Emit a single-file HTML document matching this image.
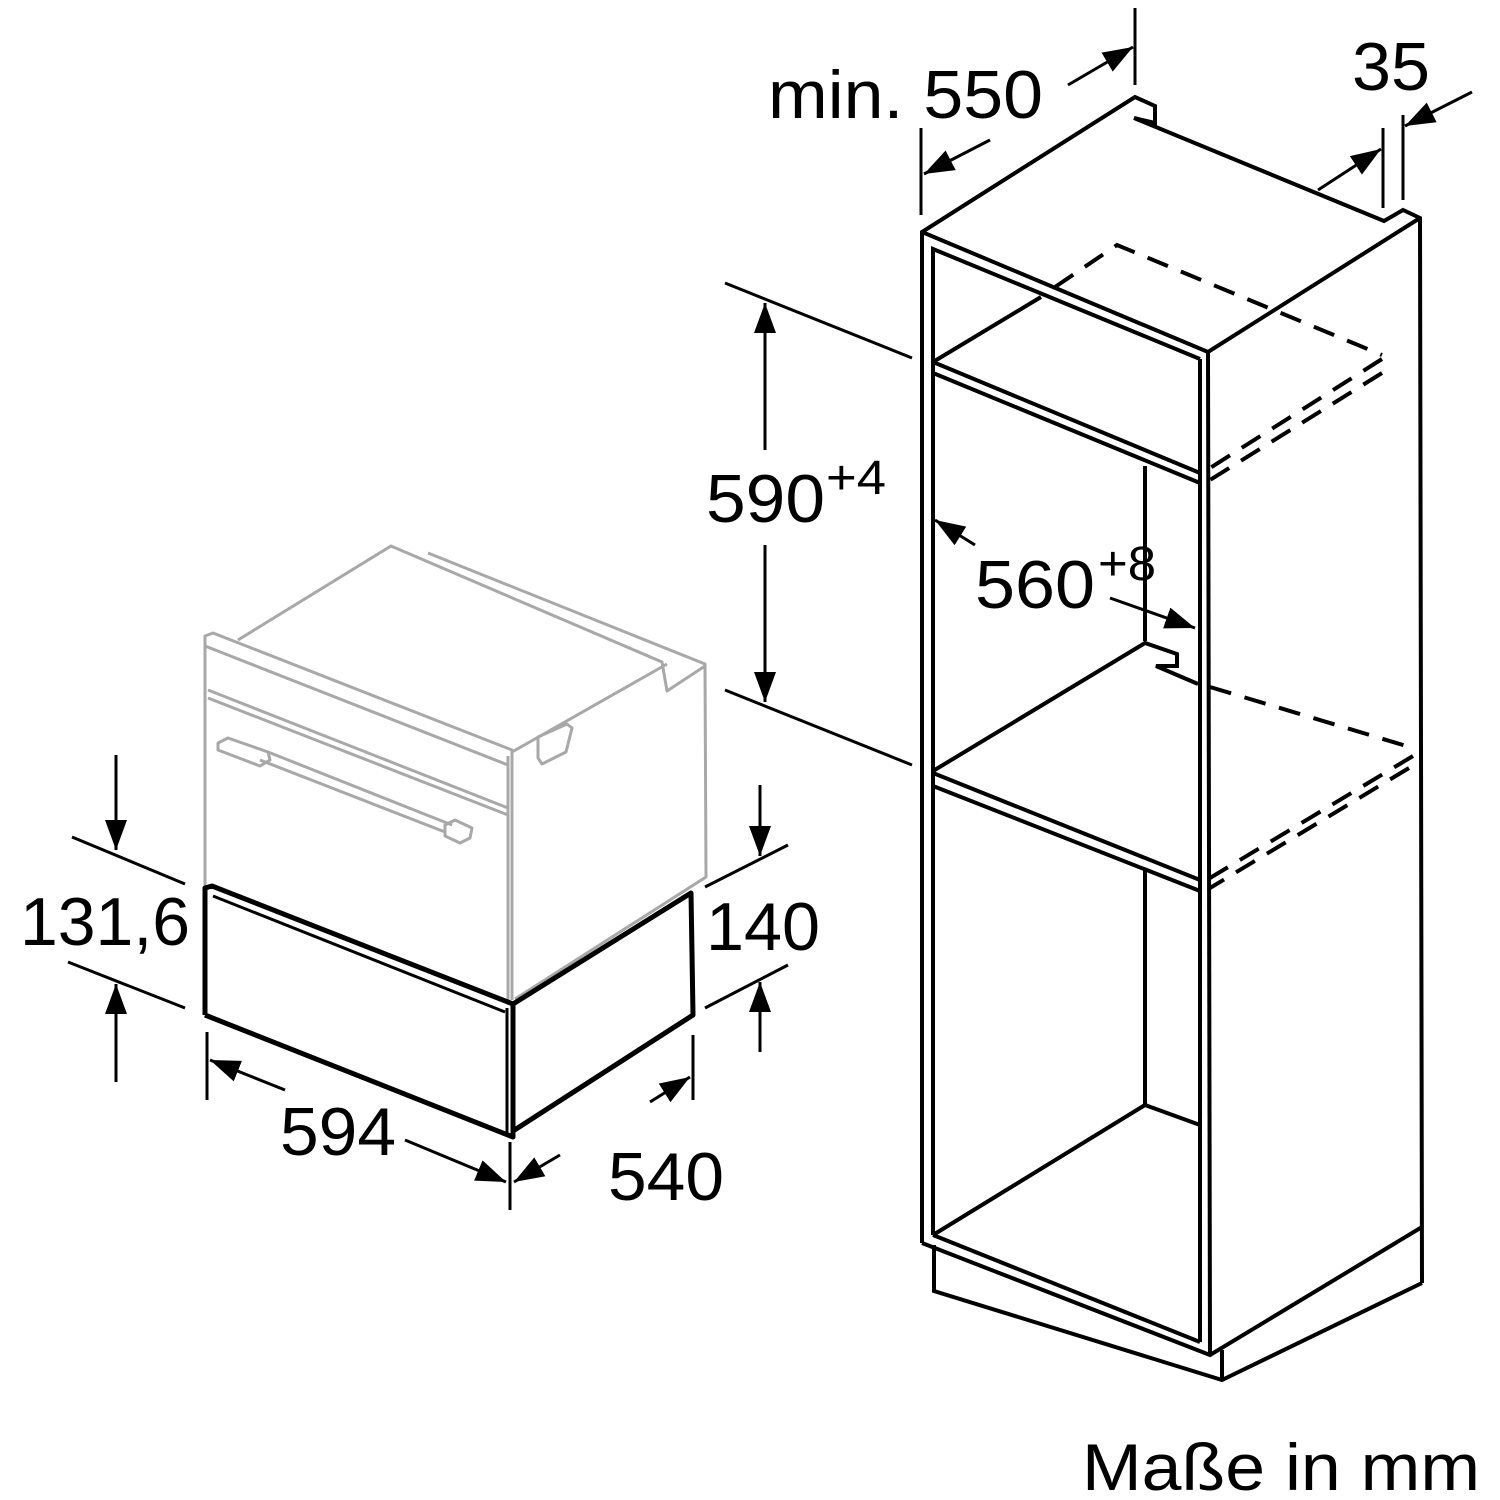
<!DOCTYPE html>
<html><head><meta charset="utf-8"><style>
html,body{margin:0;padding:0;background:#fff;}
svg{display:block;}
text{font-family:"Liberation Sans",Arial,sans-serif;fill:#000;}
</style></head><body>
<svg width="1500" height="1500" viewBox="0 0 1500 1500" xmlns="http://www.w3.org/2000/svg">
<defs>
<marker id="a" markerUnits="userSpaceOnUse" markerWidth="32" markerHeight="24" refX="30" refY="11" orient="auto">
<path d="M0,0 L30,11 L0,22 Z" fill="#000"/>
</marker>
</defs>

<!-- Gray oven -->
<g fill="none" stroke="#a8a8a8" stroke-width="3" stroke-linejoin="round">
<path d="M205,888 L205,636 L213,633 L512,750 L512,1000"/>
<path d="M238,640 L391,546 L662,662 L667,691 L705,666"/>
<path d="M428,553 L705,664 L706,877 L515,999"/>
<path d="M512,752 L667,664"/>
<path d="M205,646 L508,765"/>
<path d="M208,690 L508,808"/>
<path d="M208,698 L508,815"/>
<path d="M508,756 L508,1000"/>
<path d="M218,743 L228,738 L268,752 L270,760 L260,766 L218,750 Z"/>
<path d="M260,760 L445,832"/>
<path d="M268,752 L452,825"/>
<path d="M445,825 L455,820 L472,828 L470,838 L460,843 L445,836 Z"/>
<path d="M538,737 L567,724 L572,728 L566,752 L542,764 L538,758 Z"/>
</g>

<!-- Drawer -->
<g fill="none" stroke="#000" stroke-width="5" stroke-linejoin="round">
<path d="M205,1015 L205,888 L212,886 L513,1004 L513,1137 L205,1015"/>
<path d="M213,896 L505,1012" stroke-width="3"/>
<path d="M507,1008 L507,1133" stroke-width="3"/>
<path d="M513,1004 L691,893 L693,1015 L513,1131"/>
</g>

<!-- Cabinet -->
<g fill="none" stroke="#000" stroke-width="4" stroke-linejoin="miter">
<path d="M922,1243 L922,232 L1135,97 L1155,106 L1155,123 L1134,118 L1384,221 L1403,210 L1420,218 L1422,1283"/>
<path d="M922,232 L1208,352 L1420,218"/>
<path d="M1208,352 L1210,1355"/>
<path d="M1200,359 L1200,1342"/>
<path d="M933,1235 L933,249 L1200,359"/>
<path d="M933,362 L1200,473"/>
<path d="M933,373 L1200,483"/>
<path d="M933,362 L1041,297"/>
<path d="M1145,466 L1145,641"/>
<path d="M933,771 L1145,643 L1177,654 L1177,666 L1156,666 L1198,684"/>
<path d="M933,773 L1200,880"/>
<path d="M933,786 L1200,891"/>
<path d="M1145,870 L1145,1105 L933,1235"/>
<path d="M1145,1105 L1200,1125"/>
<path d="M922,1243 L1210,1355 L1422,1227"/>
<path d="M933,1235 L1200,1342"/>
<path d="M934,1245 L934,1291 L1222,1380 L1422,1283"/>
<path d="M1222,1350 L1222,1380"/>
</g>
<g fill="none" stroke="#000" stroke-width="4" stroke-dasharray="22,14">
<path d="M1055,287 L1117,245 L1382,355"/>
<path d="M1382,359 L1210,468"/>
<path d="M1382,373 L1210,480"/>
<path d="M1210,687 L1413,748"/>
<path d="M1413,756 L1210,878"/>
<path d="M1409,768 L1210,888"/>
</g>

<!-- Dimension lines -->
<g fill="none" stroke="#000" stroke-width="3">
<!-- 131,6 -->
<path d="M72,837 L185,884"/>
<path d="M68,962 L185,1008"/>
<path d="M116,755 L116,850" marker-end="url(#a)"/>
<path d="M116,1082 L116,984" marker-end="url(#a)"/>
<!-- 140 -->
<path d="M705,887 L788,845"/>
<path d="M705,1008 L788,965"/>
<path d="M760,785 L760,856" marker-end="url(#a)"/>
<path d="M760,1052 L760,982" marker-end="url(#a)"/>
<!-- 594 -->
<path d="M207,1032 L207,1100"/>
<path d="M510,1142 L510,1210"/>
<path d="M285,1090 L210,1060" marker-end="url(#a)"/>
<path d="M405,1140 L506,1182" marker-end="url(#a)"/>
<!-- 540 -->
<path d="M693,1035 L693,1100"/>
<path d="M560,1155 L514,1182" marker-end="url(#a)"/>
<path d="M650,1102 L690,1077" marker-end="url(#a)"/>
<!-- 590 -->
<path d="M725,283 L912,358"/>
<path d="M725,690 L912,765"/>
<path d="M765,450 L765,303" marker-end="url(#a)"/>
<path d="M765,545 L765,702" marker-end="url(#a)"/>
<!-- 560 -->
<path d="M975,545 L935,520" marker-end="url(#a)"/>
<path d="M1110,598 L1195,628" marker-end="url(#a)"/>
<!-- 550 -->
<path d="M1135,8 L1135,85"/>
<path d="M921,128 L921,215"/>
<path d="M1068,85 L1133,47" marker-end="url(#a)"/>
<path d="M990,140 L924,174" marker-end="url(#a)"/>
<!-- 35 -->
<path d="M1383,128 L1383,208"/>
<path d="M1403,115 L1403,200"/>
<path d="M1318,190 L1381,149" marker-end="url(#a)"/>
<path d="M1472,92 L1405,126" marker-end="url(#a)"/>
</g>

<!-- Labels -->
<g font-size="68">
<text x="20" y="945" textLength="170" lengthAdjust="spacingAndGlyphs">131,6</text>
<text x="706" y="950" textLength="114" lengthAdjust="spacingAndGlyphs">140</text>
<text x="280" y="1155" textLength="116" lengthAdjust="spacingAndGlyphs">594</text>
<text x="608" y="1200" textLength="116" lengthAdjust="spacingAndGlyphs">540</text>
<text x="706" y="522" textLength="119" lengthAdjust="spacingAndGlyphs">590</text>
<text x="826" y="494" font-size="48" textLength="60" lengthAdjust="spacingAndGlyphs">+4</text>
<text x="975" y="608" textLength="120" lengthAdjust="spacingAndGlyphs">560</text>
<text x="1098" y="580" font-size="48" textLength="58" lengthAdjust="spacingAndGlyphs">+8</text>
<text x="768" y="118" textLength="275" lengthAdjust="spacingAndGlyphs">min. 550</text>
<text x="1352" y="90" textLength="78" lengthAdjust="spacingAndGlyphs">35</text>
<text x="1082" y="1490" font-size="66" textLength="398" lengthAdjust="spacingAndGlyphs">Maße in mm</text>
</g>
</svg>
</body></html>
